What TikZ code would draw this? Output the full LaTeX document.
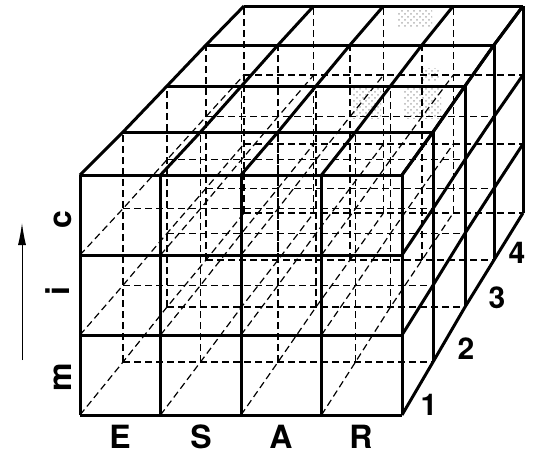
\documentclass[tikz,border=0pt]{standalone}
\usepackage{fontspec}
\setsansfont{TeX Gyre Heros}
\usetikzlibrary{arrows.meta,patterns}
\begin{document}
\begin{tikzpicture}[x=0.5pt, y=-0.5pt,
    edge/.style={line width=1.5pt},
    hidden/.style={line width=0.6pt, dash pattern=on 3.5pt off 2pt},
    lbl/.style={font=\sffamily\bfseries\fontsize{16}{19}\selectfont, inner sep=0pt},
    num/.style={font=\sffamily\bfseries\fontsize{15}{18}\selectfont, inner sep=0pt},
    stipple/.style={pattern=crosshatch dots, pattern color=gray!60}]
  \useasboundingbox (0,0) rectangle (541,455);
  % grid points of the five layer faces: left/right/top/bottom
  \foreach \k/\lx/\rx/\ty/\by in {0/80/402/175/415, 1/123/433/132/362, 2/167/465/86/307, 3/206/494/45/260, 4/244/523/6/213}
    \foreach \i in {0,...,4}
      \foreach \j in {0,...,3}
        \coordinate (p\k\i\j) at ({\lx+\i*(\rx-\lx)/4},{\by-\j*(\by-\ty)/3});
  % faint stippled patches
  \fill[stipple] (398,10) rectangle (432,26);
  \fill[stipple] (352,88) rectangle (381,118);
  \fill[stipple] (403,88) rectangle (441,118);
  \fill[stipple] (421,68) rectangle (440,80);
  % hidden lines
  \foreach \k in {1,...,4} {
    \foreach \i in {0,...,3} \draw[hidden] (p\k\i0) -- (p\k\i3);
    \foreach \j in {0,...,2} \draw[hidden] (p\k0\j) -- (p\k4\j);
  }
  \foreach \i in {0,...,3} \foreach \j in {0,...,2}
    \draw[hidden] (p0\i\j) -- (p1\i\j) -- (p2\i\j) -- (p3\i\j) -- (p4\i\j);
  % visible edges: front, top, right side
  \foreach \i in {0,...,4} \draw[edge] (p0\i0) -- (p0\i3);
  \foreach \j in {0,...,3} \draw[edge] (p00\j) -- (p04\j);
  \foreach \k in {1,...,4} {
    \draw[edge] (p\k03) -- (p\k43);
    \draw[edge] (p\k40) -- (p\k43);
  }
  \foreach \i in {0,...,4} \draw[edge] (p0\i3) -- (p1\i3) -- (p2\i3) -- (p3\i3) -- (p4\i3);
  \foreach \j in {0,...,3} \draw[edge] (p04\j) -- (p14\j) -- (p24\j) -- (p34\j) -- (p44\j);
  % labels
  \foreach \n/\x in {E/120, S/201, A/281, R/361} \node[lbl] (l\n) at (\x,437) {\n};
  \node[lbl, rotate=90] (lm) at (63,377) {m};
  \node[lbl, rotate=90] (li) at (58,291) {i};
  \node[lbl, rotate=90] (lc) at (63,220) {c};
  \foreach \n/\x/\y in {1/429/405, 2/466/349, 3/497/298, 4/517/253} \node[num] (n\n) at (\x,\y) {\n};
  \coordinate (ax0) at (22,360);
  \coordinate (ax1) at (22,223);
  \draw[-{Latex[length=11pt,width=4pt]}, line width=0.5pt] (ax0) -- (ax1);
\end{tikzpicture}
\end{document}
